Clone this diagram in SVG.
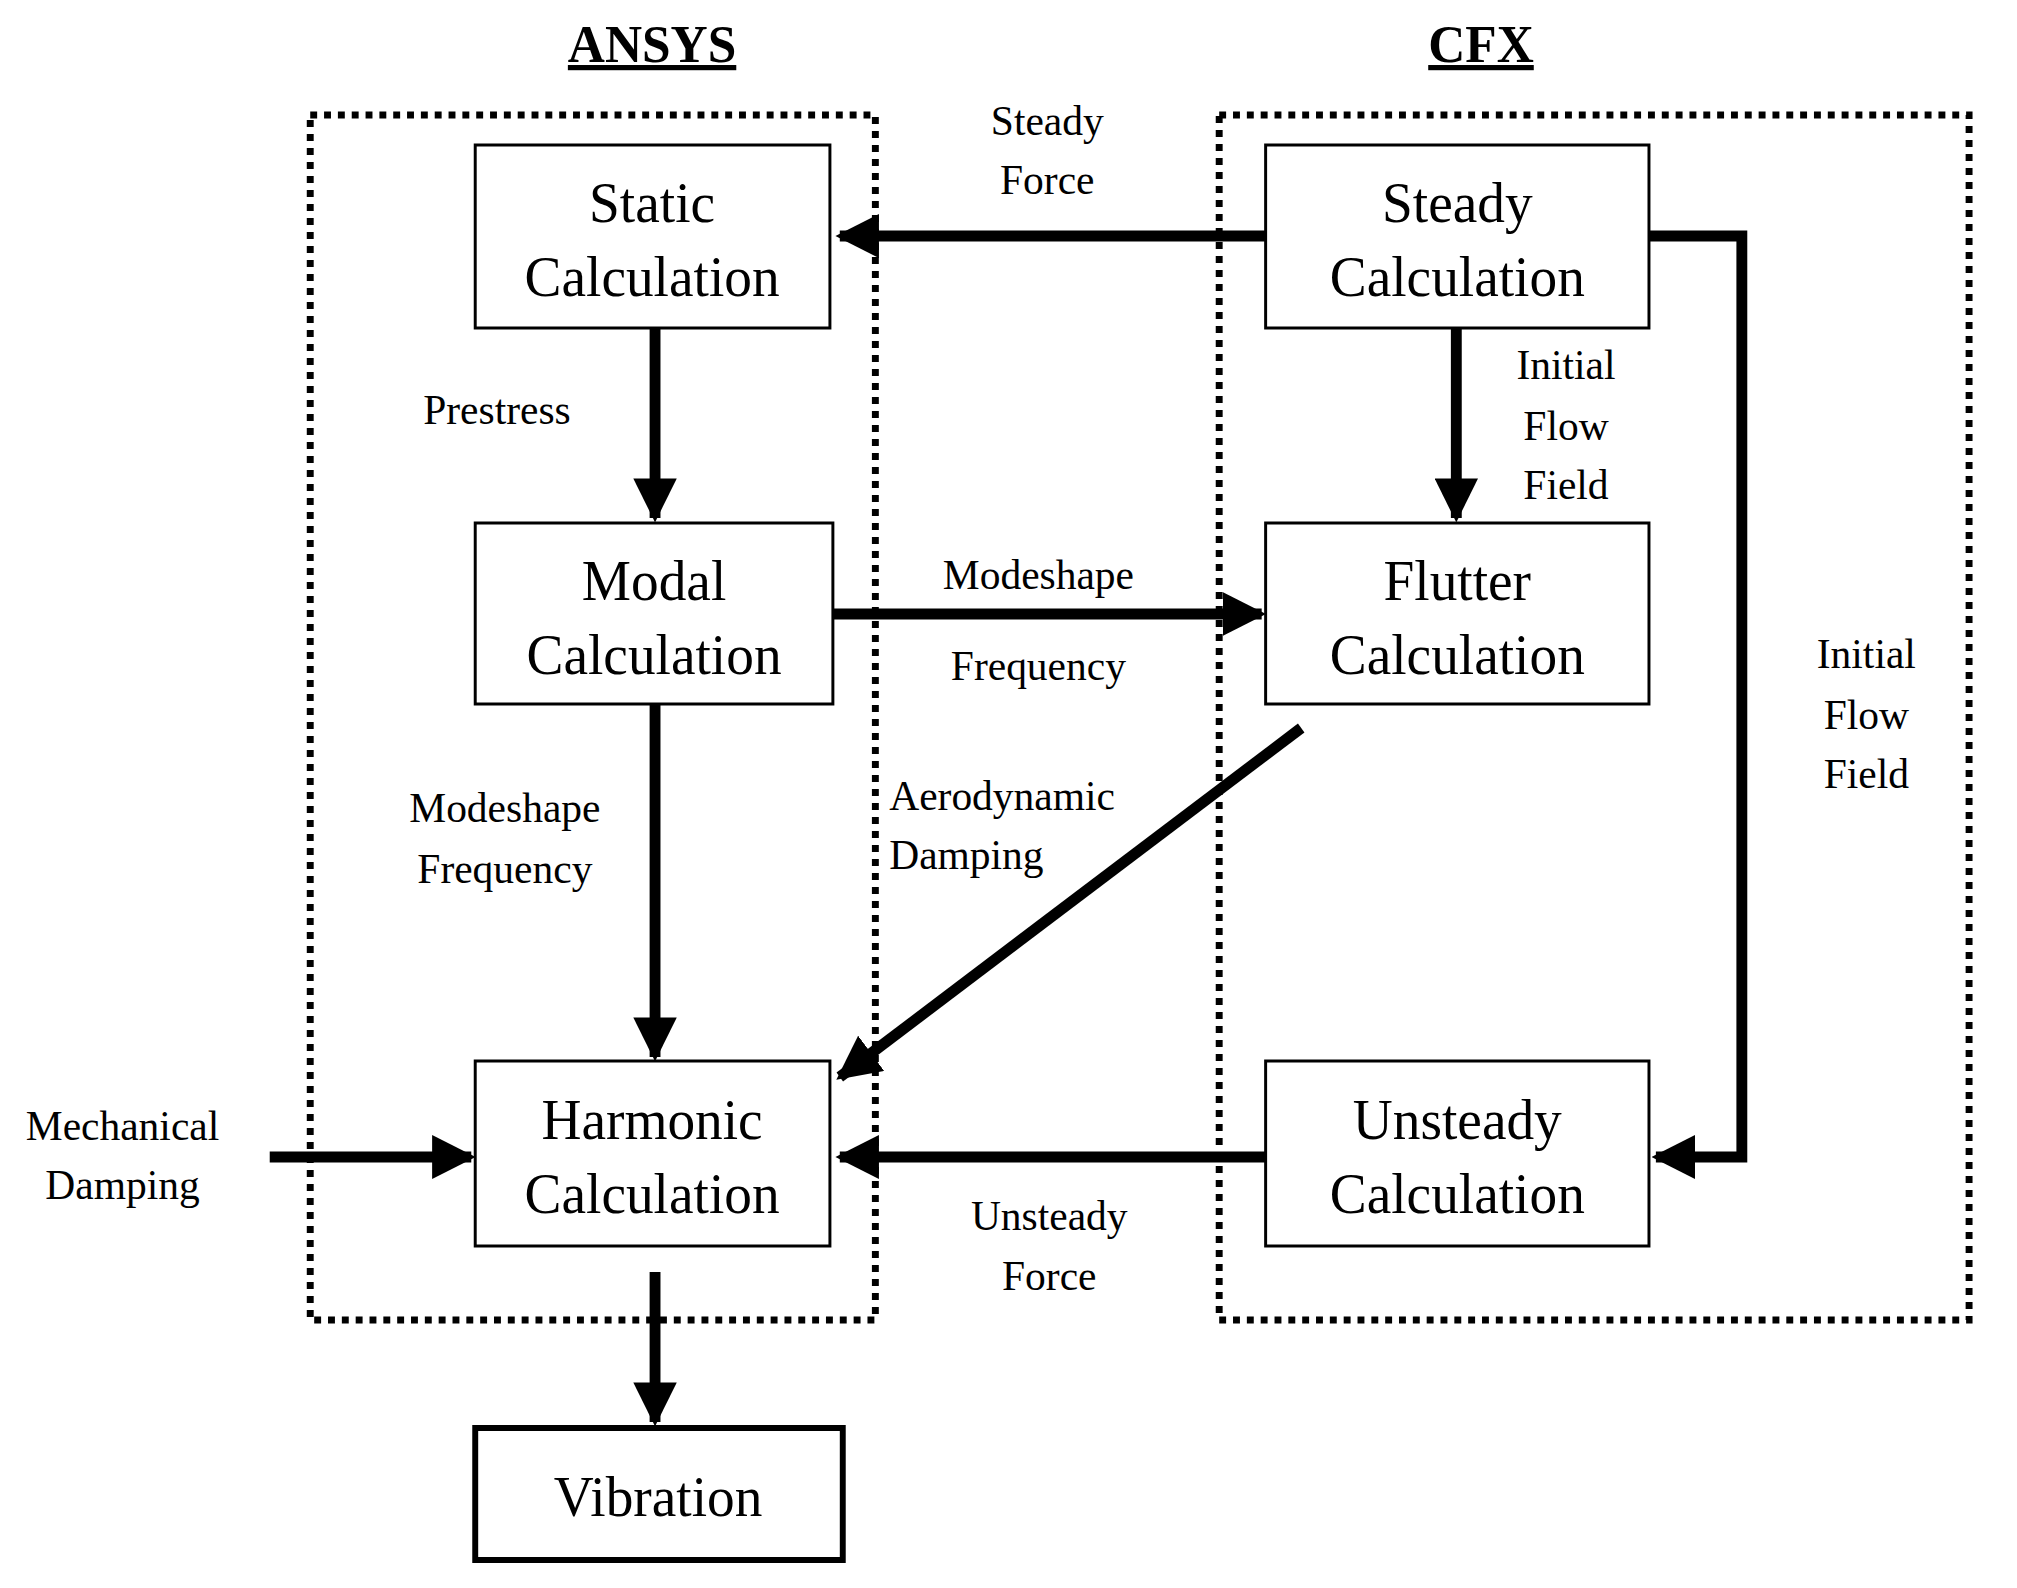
<svg xmlns="http://www.w3.org/2000/svg" width="2017" height="1588" viewBox="0 0 2017 1588">
<style>
text{font-family:"Liberation Serif","DejaVu Serif",serif;fill:#000;text-anchor:middle}
.box{fill:#fff;stroke:#000;stroke-width:3}
.bt{font-size:56px;font-family:"Liberation Serif","DejaVu Serif",serif}
.lb{font-size:42px;font-family:"Liberation Serif","DejaVu Serif",serif}
.title{font-size:52px;font-weight:bold;text-decoration:underline}
.dot{fill:none;stroke:#000;stroke-width:7;stroke-dasharray:7 7}
.ar{fill:none;stroke:#000;stroke-width:11;marker-end:url(#ah)}
</style>
<defs>
<marker id="ah" markerWidth="4" markerHeight="4" refX="3.6" refY="2" orient="auto" markerUnits="strokeWidth">
<path d="M0,0 L4,2 L0,4 z" fill="#000"/>
</marker>
</defs>
<rect width="2017" height="1588" fill="#fff"/>
<g transform="scale(0.988 1)">
<text class="title" x="660" y="62">ANSYS</text>
<text class="title" x="1499" y="62">CFX</text>
<rect class="dot" x="314" y="115" width="572" height="1205"/>
<rect class="dot" x="1234" y="115" width="759" height="1205"/>
<g id="connectors">
<line class="ar" x1="1281" y1="236" x2="850" y2="236"/>
<line class="ar" x1="663" y1="328" x2="663" y2="518"/>
<line class="ar" x1="843" y1="614" x2="1277" y2="614"/>
<line class="ar" x1="663" y1="704" x2="663" y2="1057"/>
<line class="ar" x1="1317" y1="728" x2="850" y2="1077"/>
<line class="ar" x1="1474" y1="328" x2="1474" y2="518"/>
<polyline class="ar" points="1669,236 1763,236 1763,1157 1676,1157"/>
<line class="ar" x1="1281" y1="1157" x2="850" y2="1157"/>
<line class="ar" x1="273" y1="1157" x2="477" y2="1157"/>
<line class="ar" x1="663" y1="1272" x2="663" y2="1422"/>
</g>
<g id="static"><rect class="box" x="481" y="145" width="359" height="183"/><text class="bt" x="660" y="222">Static</text><text class="bt" x="660" y="296">Calculation</text></g>
<g id="steady"><rect class="box" x="1281" y="145" width="388" height="183"/><text class="bt" x="1475" y="222">Steady</text><text class="bt" x="1475" y="296">Calculation</text></g>
<g id="modal"><rect class="box" x="481" y="523" width="362" height="181"/><text class="bt" x="662" y="600">Modal</text><text class="bt" x="662" y="674">Calculation</text></g>
<g id="flutter"><rect class="box" x="1281" y="523" width="388" height="181"/><text class="bt" x="1475" y="600">Flutter</text><text class="bt" x="1475" y="674">Calculation</text></g>
<g id="harmonic"><rect class="box" x="481" y="1061" width="359" height="185"/><text class="bt" x="660" y="1139">Harmonic</text><text class="bt" x="660" y="1213">Calculation</text></g>
<g id="unsteady"><rect class="box" x="1281" y="1061" width="388" height="185"/><text class="bt" x="1475" y="1139">Unsteady</text><text class="bt" x="1475" y="1213">Calculation</text></g>
<g id="vibration"><rect x="481" y="1428" width="372" height="132" fill="#fff" stroke="#000" stroke-width="6"/><text class="bt" x="666" y="1516">Vibration</text></g>
<g id="labels">
<text class="lb" x="1060" y="135">Steady</text><text class="lb" x="1060" y="194">Force</text>
<text class="lb" x="503" y="424">Prestress</text>
<text class="lb" x="1051" y="589">Modeshape</text><text class="lb" x="1051" y="680">Frequency</text>
<text class="lb" x="1585" y="379">Initial</text><text class="lb" x="1585" y="440">Flow</text><text class="lb" x="1585" y="499">Field</text>
<text class="lb" x="1889" y="668">Initial</text><text class="lb" x="1889" y="729">Flow</text><text class="lb" x="1889" y="788">Field</text>
<text class="lb" x="511" y="822">Modeshape</text><text class="lb" x="511" y="883">Frequency</text>
<text class="lb" x="900" y="810" style="text-anchor:start">Aerodynamic</text><text class="lb" x="900" y="869" style="text-anchor:start">Damping</text>
<text class="lb" x="124" y="1140">Mechanical</text><text class="lb" x="124" y="1199">Damping</text>
<text class="lb" x="1062" y="1230">Unsteady</text><text class="lb" x="1062" y="1290">Force</text>
</g>
</g>
</svg>
